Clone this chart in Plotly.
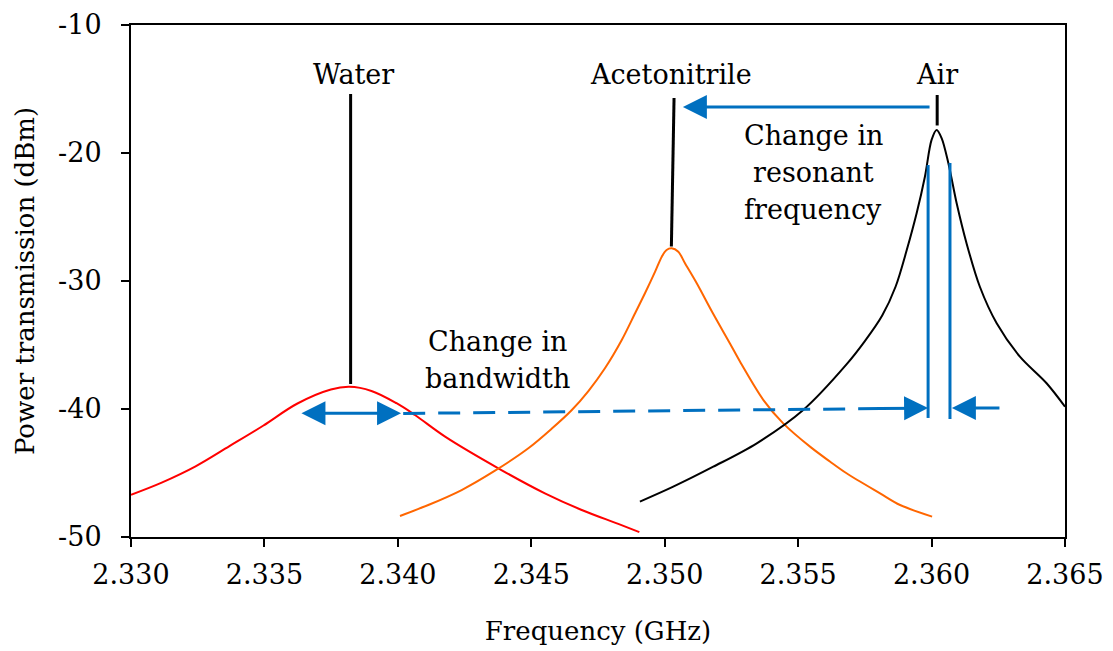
import plotly.graph_objects as go

# ---- data ----
water_f = [2.33000, 2.33115, 2.33242, 2.33369, 2.33495, 2.33622, 2.33749, 2.33818,
           2.33901, 2.33995, 2.34064, 2.34177, 2.34383, 2.34551, 2.34689, 2.34826, 2.34905]
water_p = [-46.70, -45.75, -44.48, -42.90, -41.31, -39.59, -38.48, -38.27,
           -38.59, -39.55, -40.47, -42.16, -44.71, -46.59, -47.89, -48.98, -49.62]

aceto_f = [2.34008, 2.34114, 2.34239, 2.34364, 2.34489, 2.34576, 2.34651, 2.34714,
           2.34776, 2.34839, 2.34889, 2.34926, 2.34964, 2.34989, 2.35007, 2.35026,
           2.35051, 2.35076, 2.35120, 2.35180, 2.35245, 2.35285, 2.35370, 2.35444,
           2.35548, 2.35619, 2.35680, 2.35807, 2.35882, 2.36002]
aceto_p = [-48.36, -47.50, -46.33, -44.82, -43.07, -41.55, -40.10, -38.60,
           -36.82, -34.61, -32.52, -30.96, -29.27, -28.10, -27.58, -27.45,
           -27.71, -28.62, -30.18, -32.50, -34.90, -36.40, -39.30, -41.12,
           -43.00, -44.10, -45.00, -46.59, -47.50, -48.41]

air_f = [2.34907, 2.35032, 2.35182, 2.35345, 2.35519, 2.35682, 2.35750, 2.35815,
         2.35865, 2.35907, 2.35944, 2.35975, 2.36000, 2.36019, 2.36038, 2.36063,
         2.36094, 2.36131, 2.36181, 2.36244, 2.36331, 2.36431, 2.36500]
air_p = [-47.24, -46.07, -44.51, -42.68, -40.08, -36.50, -34.70, -32.70,
         -30.45, -27.58, -24.71, -21.85, -18.98, -18.20, -18.85, -20.80,
         -23.93, -27.05, -30.45, -33.30, -35.91, -37.99, -39.82]

x_ticks = [2.330, 2.335, 2.340, 2.345, 2.350, 2.355, 2.360, 2.365]
x_tick_labels = ["2.330", "2.335", "2.340", "2.345", "2.350", "2.355", "2.360", "2.365"]
y_ticks = [-50, -40, -30, -20, -10]
y_tick_labels = ["-50", "-40", "-30", "-20", "-10"]

FONT = "DejaVu Serif"
BLUE = "#0070C0"

fig = go.Figure()
fig.add_trace(go.Scatter(x=water_f, y=water_p, mode="lines", name="Water",
                         line=dict(color="#FF0000", width=2, shape="spline", smoothing=1.0)))
fig.add_trace(go.Scatter(x=aceto_f, y=aceto_p, mode="lines", name="Acetonitrile",
                         line=dict(color="#FF6600", width=2, shape="spline", smoothing=0.9)))
fig.add_trace(go.Scatter(x=air_f, y=air_p, mode="lines", name="Air",
                         line=dict(color="#000000", width=2, shape="spline", smoothing=0.9)))

shapes = []
# black pointer lines
shapes.append(dict(type="line", xref="x", yref="y", x0=2.33823, y0=-15.39, x1=2.33823, y1=-38.05,
                   line=dict(color="black", width=3)))
shapes.append(dict(type="line", xref="x", yref="y", x0=2.35035, y0=-15.70, x1=2.35025, y1=-27.30,
                   line=dict(color="black", width=3)))
shapes.append(dict(type="line", xref="x", yref="y", x0=2.36021, y0=-15.47, x1=2.36021, y1=-17.85,
                   line=dict(color="black", width=3)))
# blue vertical lines
shapes.append(dict(type="line", xref="x", yref="y", x0=2.35987, y0=-20.94, x1=2.35987, y1=-40.70,
                   line=dict(color=BLUE, width=3)))
shapes.append(dict(type="line", xref="x", yref="y", x0=2.36069, y0=-20.78, x1=2.36069, y1=-40.78,
                   line=dict(color=BLUE, width=3)))
# dashed bandwidth line
shapes.append(dict(type="line", xref="x", yref="y", x0=2.34020, y0=-40.35, x1=2.35830, y1=-39.96,
                   line=dict(color=BLUE, width=3, dash="22px,13px")))
fig.update_layout(shapes=shapes)

ann = []
def arrow(x, y, ax, ay, side="end"):
    ann.append(dict(x=x, y=y, ax=ax, ay=ay, xref="x", yref="y", axref="x", ayref="y",
                    text="", showarrow=True, arrowhead=2, arrowsize=1.6, arrowwidth=3,
                    arrowcolor=BLUE, arrowside=side, standoff=0, startstandoff=0))

arrow(2.35068, -16.41, 2.35998, -16.41)            # resonant shift arrow
arrow(2.35987, -39.93, 2.35800, -39.97)             # end of dashed line
arrow(2.36076, -39.92, 2.36260, -39.92)             # right arrow
arrow(2.34012, -40.33, 2.33633, -40.33, "end+start")  # double arrow

def label(x, y, t, size=27):
    ann.append(dict(x=x, y=y, xref="x", yref="y", text=t, showarrow=False,
                    font=dict(family=FONT, size=size, color="black"),
                    xanchor="center", yanchor="middle"))

label(2.33832, -13.9, "Water")
label(2.35024, -13.9, "Acetonitrile")
label(2.36020, -13.9, "Air")
label(2.35556, -18.6, "Change in")
label(2.35556, -21.55, "resonant")
label(2.35556, -24.45, "frequency")
label(2.34372, -34.75, "Change in")
label(2.34372, -37.65, "bandwidth")

fig.update_layout(annotations=ann)

axis_common = dict(showline=True, linecolor="black", linewidth=2, mirror=True,
                   ticks="outside", ticklen=8, tickwidth=2, tickcolor="black",
                   showgrid=False, zeroline=False,
                   tickfont=dict(family=FONT, size=27, color="black"))

fig.update_xaxes(range=[2.330, 2.365], tickvals=x_ticks, ticktext=x_tick_labels,
                 title=dict(text="Frequency (GHz)", font=dict(family=FONT, size=26, color="black"),
                            standoff=32),
                 ticklabelstandoff=5, **axis_common)
fig.update_yaxes(range=[-50, -10], tickvals=y_ticks, ticktext=y_tick_labels,
                 title=dict(text="Power transmission (dBm)", font=dict(family=FONT, size=26, color="black"),
                            standoff=16),
                 ticklabelstandoff=14, **axis_common)

fig.update_layout(width=1113, height=651, showlegend=False,
                  margin=dict(l=131, r=48, t=25, b=114, autoexpand=False),
                  plot_bgcolor="white", paper_bgcolor="white")

fig.write_html("out.html")
